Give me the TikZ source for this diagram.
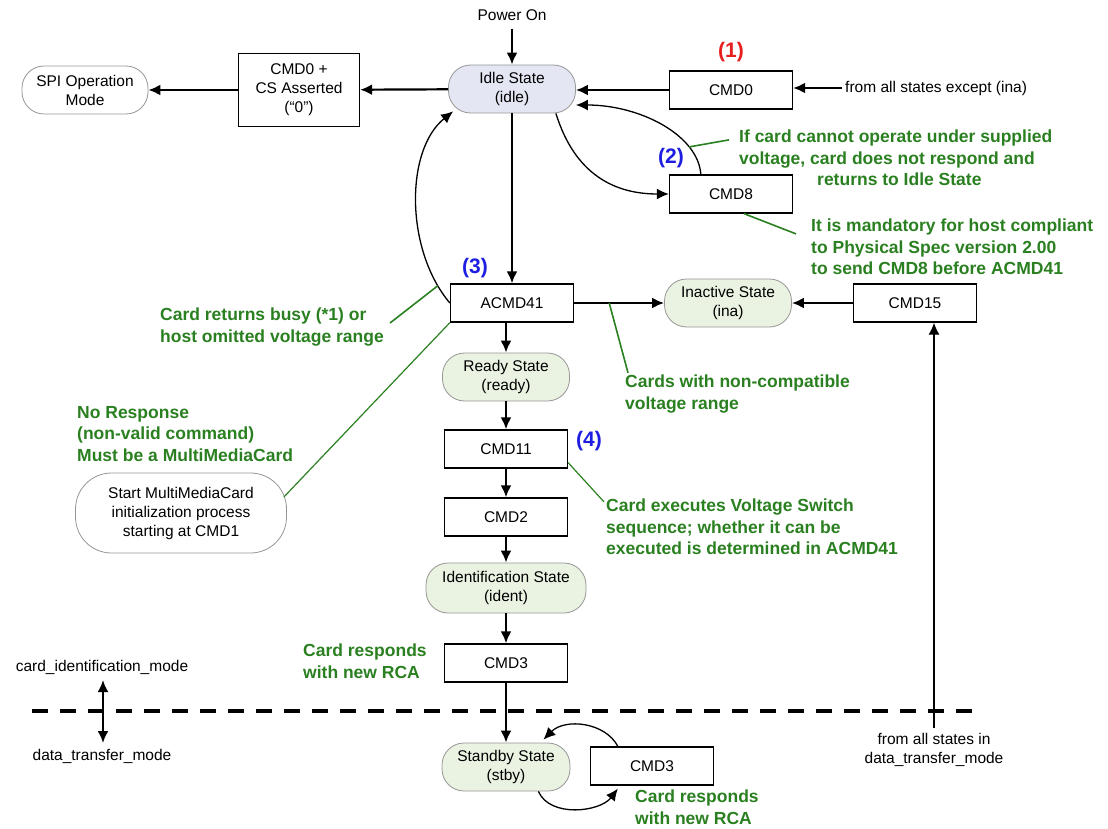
\documentclass[tikz,border=0pt]{standalone}
\usepackage{fontspec}
\setmainfont{Liberation Sans}
\usetikzlibrary{arrows.meta,calc}
\definecolor{notegreen}{RGB}{42,128,32}
\definecolor{tagblue}{RGB}{30,30,225}
\definecolor{tagred}{RGB}{230,30,30}
\definecolor{idlefill}{RGB}{228,231,243}
\definecolor{statefill}{RGB}{234,242,226}
\definecolor{stateline}{RGB}{150,150,150}

\begin{document}
\begin{tikzpicture}[x=1pt,y=-1pt,
  every node/.style={font=\fontsize{15.5}{19}\selectfont, inner sep=0pt},
  cmdbox/.style={draw, line width=1.3pt, minimum width=123pt, minimum height=38pt, align=center},
  state/.style={draw=stateline, line width=0.8pt, fill=statefill, rounded corners=22pt,
                minimum width=127pt, minimum height=48pt, align=center},
  note/.style={text=notegreen, font=\fontsize{17.5}{21.5}\selectfont\bfseries, align=left, anchor=west},
  tag/.style={font=\fontsize{21}{24}\selectfont\bfseries},
  tip/.style={Latex[length=12pt,width=11pt]},
  arr/.style={line width=2.2pt, -{Latex[length=12pt,width=11pt]}},
  curarr/.style={line width=1.3pt, -{Latex[length=12pt,width=11pt]}},
  dblarr/.style={line width=2.2pt, {Latex[length=12pt,width=11pt]}-{Latex[length=12pt,width=11pt]}},
  lead/.style={notegreen, line width=1.6pt},
]
\useasboundingbox (0,0) rectangle (1108,829);

% --- states and commands -------------------------------------------------
\node (power) at (512,15) {Power On};
\node[state, fill=idlefill] (idle) at (512,89) {Idle State\\(idle)};
\node[cmdbox, minimum width=121pt, minimum height=73pt] (cs) at (299,90) {CMD0 +\\CS Asserted\\(“0”)};
\node[state, fill=white, minimum width=126pt] (spi) at (85,90) {SPI Operation\\Mode};
\node[cmdbox] (cmd0) at (731,90) {CMD0};
\node[tag, text=tagred] (t1) at (731,52) {(1)};
\node[anchor=west] (fromall) at (845,88) {from all states except (ina)};
\node[cmdbox] (cmd8) at (731,194) {CMD8};
\node[tag, text=tagblue] (t2) at (671,158) {(2)};

\node[cmdbox] (acmd) at (512,303) {ACMD41};
\node[tag, text=tagblue] (t3) at (475,268) {(3)};
\node[state] (ina) at (728,303) {Inactive State\\(ina)};
\node[cmdbox] (cmd15) at (915,303) {CMD15};
\node[state] (ready) at (506,377) {Ready State\\(ready)};
\node[cmdbox] (cmd11) at (506,449) {CMD11};
\node[tag, text=tagblue] (t4) at (589,441) {(4)};
\node[cmdbox] (cmd2) at (506,517) {CMD2};
\node[state, minimum width=160pt, minimum height=50pt] (ident) at (506,588) {Identification State\\(ident)};
\node[cmdbox] (cmd3) at (506,663) {CMD3};
\node[state, minimum width=128pt] (stby) at (506,767) {Standby State\\(stby)};
\node[cmdbox] (cmd3b) at (652,766) {CMD3};
\node[state, fill=white, minimum width=211pt, minimum height=80pt, rounded corners=36pt] (mmc) at (181,513)
  {Start MultiMediaCard\\initialization process\\starting at CMD1};

% --- green remarks -------------------------------------------------------
\node[note] (n8a) at (739,158) {If card cannot operate under supplied\\voltage, card does not respond and\\\hspace*{78pt}returns to Idle State};
\node[note] (n8b) at (811,247) {It is mandatory for host compliant\\to Physical Spec version 2.00\\to send CMD8 before ACMD41};
\node[note] (nbusy) at (160,327) {Card returns busy (*1) or\\host omitted voltage range};
\node[note] (nresp) at (77,434) {No Response\\(non-valid command)\\Must be a MultiMediaCard};
\node[note] (ncards) at (625,394) {Cards with non-compatible\\voltage range};
\node[note] (nvs) at (606,527) {Card executes Voltage Switch\\sequence; whether it can be\\executed is determined in ACMD41};
\node[note] (nrca1) at (303,661) {Card responds\\with new RCA};
\node[note] (nrca2) at (635,807) {Card responds\\with new RCA};

% --- mode labels ---------------------------------------------------------
\node (cidm) at (102,667) {card\_identification\_mode};
\node (dtm) at (102,756) {data\_transfer\_mode};
\node[align=center] (fromdt) at (934,750) {from all states in\\data\_transfer\_mode};

% --- transitions ---------------------------------------------------------
\draw[arr] (power.south) ++(0,8) -- (idle.north);
\draw[arr] (idle) -- (cs);
\draw[arr] (cs) -- (spi);
\draw[arr] (cmd0.west) -- (cmd0.west -| idle.east);
\draw[arr] ($(fromall.west)+(-3,0)$) -- (fromall.west -| cmd0.east);

\draw[curarr] ($(idle.south east)+(-20,0)$) .. controls (575,175) and (615,194) .. (cmd8.west);
\draw[curarr] ($(cmd8.north west)+(32,0)$) .. controls (698,135) and (640,105) .. ($(idle.east)+(0,16)$)
  coordinate[pos=0.25] (l1);
\draw[lead] (l1) -- ($(n8a.north west)+(-10,10)$);
\draw[lead] ($(cmd8.south)+(13,0)$) -- ($(n8b.north west)+(-15,15)$);

\draw[arr] (idle) -- (acmd);
\draw[curarr] (acmd.west) .. controls (405,250) and (405,150) .. ($(idle.south west)+(5,-2)$)
  coordinate[pos=0.1] (l2);
\draw[lead] ($(nbusy.east)+(6,-4)$) -- (l2);
\draw[lead, line width=1.2pt] (acmd.south west) -- ($(mmc.east)+(-3,-16)$);

\draw[arr] (acmd.east) -- (ina.west) coordinate[pos=0.39] (l3);
\draw[arr] (cmd15.west) -- (ina.east);
\draw[lead] (l3) -- ($(ncards.north west)+(3,-2)$);
\coordinate (dtbot) at (934,728);
\draw[arr, line width=1.3pt] (dtbot) -- (dtbot |- cmd15.south);

\draw[arr] (ready.north |- acmd.south) -- (ready.north);
\draw[arr] (ready) -- (cmd11);
\draw[lead, line width=1.2pt] ($(cmd11.south east)+(0,-6)$) -- ($(nvs.north west)+(-2,3)$);
\draw[arr] (cmd11) -- (cmd2);
\draw[arr] (cmd2) -- (ident);
\draw[arr] (ident) -- (cmd3);
\draw[arr] (cmd3) -- (stby);

\draw[curarr] ($(cmd3b.north west)+(28,0)$) .. controls (605,722) and (565,718) .. ($(stby.north east)+(-27,-3)$);
\draw[curarr] ($(stby.south east)+(-32,0)$) .. controls (550,818) and (600,812) .. ($(cmd3b.south west)+(28,3)$);

% --- mode boundary -------------------------------------------------------
\coordinate (dl) at (32,711);
\coordinate (dr) at (975,711);
\draw[line width=4.5pt, dash pattern=on 16pt off 12pt] (dl) -- (dr);
\coordinate (mt) at (103,680);
\coordinate (mb) at (103,743);
\draw[dblarr] (mt) -- (mb);
\end{tikzpicture}
\end{document}
